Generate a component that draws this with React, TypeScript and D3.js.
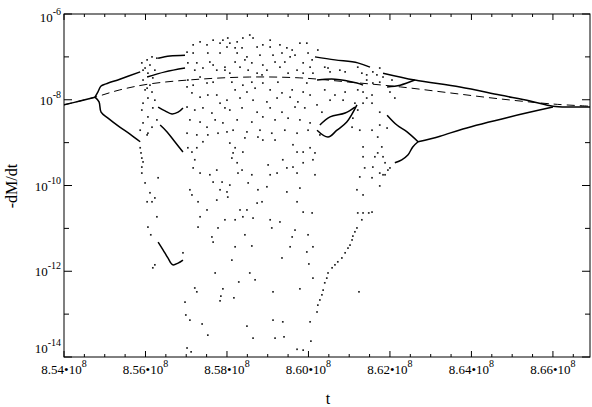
import React from "react";
import * as d3 from "d3";

// t in units of 1e6, dM/dt as log10 value
type Pt = [number, number];

const xTicksMajor = [854, 856, 858, 860, 862, 864, 866];
const xTickLabels = ["8.54", "8.56", "8.58", "8.60", "8.62", "8.64", "8.66"];
const yDecades = [-14, -13, -12, -11, -10, -9, -8, -7, -6];
const yLabelDecades = [-14, -12, -10, -8, -6];

// stable branches (solid)
const mainBranch: Pt[] = [[854.0, -8.12], [854.39, -8.03], [854.76, -7.94]];
const upperBranch: Pt[] = [[854.76, -7.94], [854.83, -7.82], [854.91, -7.68], [855.03, -7.63], [855.37, -7.52], [855.87, -7.35]];
const lowerBranch: Pt[] = [[854.76, -7.94], [854.86, -8.05], [854.91, -8.29], [855.08, -8.43], [855.37, -8.64], [855.62, -8.8], [855.87, -8.98]];
const topLeft: Pt[] = [[856.31, -7.03], [856.6, -6.98], [856.97, -6.96]];
const midLeft: Pt[] = [[856.04, -7.47], [856.48, -7.35], [856.97, -7.26]];
const vUpper: Pt[] = [[856.31, -8.17], [856.48, -8.26], [856.65, -8.33], [856.8, -8.29], [856.92, -8.19]];
const descend: Pt[] = [[856.36, -8.59], [856.53, -8.75], [856.72, -8.98], [856.92, -9.22]];
const vLower: Pt[] = [[856.31, -11.32], [856.43, -11.5], [856.55, -11.69], [856.67, -11.85], [856.8, -11.81], [856.92, -11.74]];
const topRight: Pt[] = [[860.16, -7.0], [860.65, -7.07], [861.21, -7.14], [861.51, -7.24]];
const upperRight: Pt[] = [[861.83, -7.38], [862.61, -7.54], [863.72, -7.7], [864.7, -7.89], [865.44, -8.03], [866.0, -8.15], [866.42, -8.17], [866.91, -8.17]];
const midRight: Pt[] = [[860.21, -7.54], [860.65, -7.52], [861.19, -7.61], [861.34, -7.66]];
const mergeRight: Pt[] = [[861.93, -7.7], [862.25, -7.66], [862.61, -7.54]];
const lowerRight: Pt[] = [[866.0, -8.17], [864.94, -8.4], [863.79, -8.68], [863.23, -8.85], [862.69, -8.98]];
const armUp: Pt[] = [[862.69, -8.98], [862.42, -8.75], [862.17, -8.59], [861.93, -8.36]];
const armDown: Pt[] = [[862.69, -8.98], [862.56, -9.1], [862.44, -9.29], [862.29, -9.4], [862.12, -9.47]];
const loopA: Pt[] = [[860.28, -8.59], [860.53, -8.4], [860.9, -8.31], [861.14, -8.17]];
const loopB: Pt[] = [[860.21, -8.71], [860.48, -8.87], [860.7, -8.71], [860.94, -8.52], [861.19, -8.12]];

// unstable fixed point (dashed)
const dashedLine: Pt[] = [[854.0, -8.12], [854.76, -7.94], [855.37, -7.77], [856.11, -7.63], [857.34, -7.52], [858.56, -7.47], [859.79, -7.49], [861.02, -7.59], [862.25, -7.7], [863.47, -7.84], [864.7, -7.98], [866.0, -8.1], [866.91, -8.15]];

// chaotic points
const cloudLeft: Pt[] = [[855.91, -7.14], [856.04, -7.07], [856.16, -7.0], [856.28, -7.03], [855.94, -7.31], [856.06, -7.38], [856.18, -7.49], [855.94, -7.54], [856.11, -7.66], [855.99, -7.77], [856.16, -7.82], [856.06, -7.96], [855.94, -8.08], [856.23, -8.01], [855.91, -8.24], [856.06, -8.4], [855.94, -8.54], [856.16, -8.64], [855.87, -8.71], [856.04, -8.82], [856.28, -8.47], [855.99, -7.26], [856.11, -7.19], [856.23, -7.31], [856.04, -7.73], [856.18, -8.19], [856.06, -8.78]];
const cloudUpper: Pt[] = [[857.02, -6.89], [857.17, -6.72], [857.34, -6.65], [857.51, -6.72], [857.66, -6.61], [857.83, -6.68], [858.0, -6.77], [857.04, -7.14], [857.26, -7.14], [857.41, -7.26], [857.58, -7.12], [857.75, -7.31], [857.95, -7.24], [857.9, -6.61], [858.07, -6.68], [858.2, -6.79], [858.25, -6.65], [858.39, -6.56], [858.56, -6.49], [858.64, -6.56], [858.37, -6.79], [858.74, -6.77], [858.88, -6.72], [859.06, -6.77], [859.3, -6.72], [859.47, -6.79], [859.6, -6.84], [859.79, -6.68], [859.99, -6.91], [860.09, -7.07], [857.83, -6.91], [858.25, -6.91], [858.49, -7.0], [858.81, -6.96], [859.13, -6.96], [859.35, -6.91], [859.67, -6.96], [858.2, -7.12], [858.44, -7.07], [858.61, -7.14], [858.88, -7.19], [859.18, -7.12], [859.42, -7.12], [859.87, -7.14], [860.04, -7.24], [859.96, -6.68], [860.23, -6.84], [857.17, -6.91], [857.53, -6.91], [857.21, -7.31], [857.66, -7.19], [858.32, -7.24], [858.98, -7.31], [859.3, -7.24], [859.72, -7.31], [859.55, -7.0], [858.02, -6.56], [859.06, -6.61]];
const cloudMid: Pt[] = [[857.04, -7.54], [857.17, -7.66], [857.34, -7.47], [857.51, -7.61], [857.66, -7.59], [857.14, -7.84], [857.34, -7.94], [857.53, -7.89], [857.75, -7.89], [857.83, -8.08], [857.02, -8.17], [857.21, -8.24], [857.41, -8.19], [857.63, -8.31], [857.95, -8.19], [857.09, -8.47], [857.34, -8.52], [857.51, -8.64], [857.71, -8.47], [857.9, -8.54], [857.02, -8.78], [857.26, -8.82], [857.53, -8.82], [857.78, -8.78], [857.95, -7.31], [858.07, -7.38], [858.52, -7.31], [858.74, -7.38], [858.86, -7.42], [859.5, -7.38], [859.87, -7.38], [860.11, -7.38], [858.12, -7.59], [858.39, -7.66], [858.61, -7.59], [858.88, -7.61], [859.25, -7.59], [859.96, -7.61], [858.2, -7.77], [858.49, -7.82], [858.69, -7.73], [859.06, -7.77], [859.35, -7.84], [859.6, -7.77], [859.87, -7.82], [858.0, -8.01], [858.32, -7.96], [858.64, -8.01], [858.98, -8.05], [859.23, -7.96], [859.55, -7.94], [859.74, -8.05], [860.04, -7.89], [858.07, -8.24], [858.37, -8.19], [858.74, -8.29], [859.06, -8.19], [859.35, -8.29], [859.67, -8.17], [859.91, -8.19], [860.21, -8.12], [858.25, -8.47], [858.61, -8.52], [858.88, -8.4], [859.18, -8.47], [859.5, -8.43], [859.79, -8.47], [860.04, -8.54], [858.15, -8.71], [858.49, -8.75], [858.81, -8.71], [859.1, -8.78], [859.42, -8.71], [859.72, -8.78], [859.99, -8.71], [857.02, -7.7]];
const cloudRight: Pt[] = [[861.21, -7.24], [861.31, -7.38], [861.43, -7.42], [861.68, -7.42], [861.75, -7.26], [861.83, -7.47], [861.75, -7.59], [861.58, -7.61], [861.21, -7.77], [861.34, -7.82], [861.56, -7.89], [861.43, -7.96], [861.34, -8.08], [861.14, -8.08], [861.56, -8.08], [861.21, -8.24], [861.09, -8.43], [861.07, -8.64], [861.75, -8.29], [861.75, -8.59], [861.93, -8.66], [861.56, -8.71], [861.26, -8.71], [861.7, -8.87], [861.43, -7.54], [861.58, -7.35], [862.05, -7.54], [862.0, -7.82], [862.12, -7.96], [860.4, -7.24], [860.53, -7.35], [860.77, -7.31], [860.48, -7.26], [860.9, -7.35], [860.4, -7.77], [860.65, -7.89], [860.9, -7.82], [860.53, -8.01], [860.85, -8.01], [860.33, -8.29]];
const cloudMidLow: Pt[] = [[858.0, -8.75], [858.07, -9.01], [858.2, -9.12], [858.44, -8.89], [858.76, -8.87], [858.88, -8.94], [859.18, -8.94], [859.62, -9.05], [859.72, -9.22], [859.87, -9.22], [860.04, -9.12], [860.16, -9.24], [860.28, -8.82], [857.04, -9.12], [857.14, -9.22], [857.26, -9.12], [857.41, -8.98], [857.21, -9.4], [857.17, -9.59], [857.34, -9.71], [857.58, -9.75], [857.75, -9.64], [857.66, -9.92], [857.88, -9.92], [858.07, -9.99], [858.0, -10.15], [857.83, -10.1], [858.15, -9.24], [858.25, -9.47], [858.27, -9.71], [858.37, -9.64], [858.12, -9.36], [858.39, -9.22], [858.52, -9.94], [858.61, -9.75], [858.76, -10.1], [858.98, -10.03], [859.06, -9.75], [859.23, -9.71], [859.01, -9.52], [859.37, -9.4], [859.47, -9.59], [859.62, -9.57], [859.72, -9.71], [859.87, -9.47], [860.11, -9.4], [860.16, -9.75], [859.47, -10.15], [859.79, -10.06], [857.09, -10.1], [857.14, -10.22], [857.29, -10.38], [857.51, -10.57], [857.75, -10.34], [858.02, -10.27], [858.32, -10.57], [858.49, -10.57], [858.39, -10.73], [858.74, -10.41], [858.86, -10.38], [859.06, -10.8], [859.3, -10.85], [859.72, -10.38], [859.87, -10.62], [860.09, -10.64], [857.34, -10.73], [857.95, -10.8], [858.2, -10.8], [858.64, -10.76], [857.29, -10.97], [857.78, -10.99], [857.63, -11.2], [858.44, -11.15], [859.1, -10.99], [859.67, -11.04], [859.99, -11.15], [859.6, -11.2], [858.2, -11.43], [858.61, -11.41], [859.55, -11.43], [856.31, -9.82], [856.92, -11.57]];
const leftEdge: Pt[] = [[855.87, -9.12], [855.89, -9.24], [855.91, -9.36], [855.94, -9.45], [855.91, -9.57], [855.91, -9.71], [855.99, -9.94], [856.11, -10.17], [856.04, -10.38], [856.16, -10.38], [856.23, -10.29], [856.28, -10.73], [856.06, -10.97], [856.13, -11.15], [856.23, -11.85], [856.18, -11.92]];
const lowCloud: Pt[] = [[857.66, -11.32], [860.11, -11.43], [859.96, -11.55], [858.12, -11.74], [859.35, -11.69], [857.71, -12.04], [858.56, -12.04], [858.69, -12.2], [858.29, -12.25], [860.01, -11.83], [860.11, -12.16], [857.21, -12.39], [857.26, -12.48], [857.9, -12.41], [857.85, -12.58], [857.83, -12.69], [858.17, -12.62], [856.97, -12.72], [859.13, -12.48], [859.79, -12.41], [856.99, -13.02], [857.09, -13.14], [857.39, -13.23], [857.53, -13.49], [858.49, -13.28], [859.13, -13.14], [859.37, -13.18], [860.04, -13.18], [858.64, -13.56], [859.18, -13.56], [859.4, -13.53], [860.06, -13.63], [859.72, -13.82], [859.87, -13.84], [857.02, -13.79], [857.12, -13.88], [861.24, -12.48]];
const rightEdge: Pt[] = [[862.0, -9.59], [861.95, -9.64], [861.88, -9.75], [861.75, -10.01], [861.34, -9.1], [861.8, -9.1], [861.7, -9.24], [861.34, -9.33], [861.63, -9.33], [861.83, -9.33], [861.88, -9.47], [861.58, -9.57], [861.38, -9.59], [861.75, -9.71], [861.26, -9.8], [861.56, -9.82], [861.83, -9.75], [861.19, -10.1], [861.34, -10.22], [861.21, -10.64], [861.34, -10.64], [861.48, -10.64], [861.56, -10.62], [861.31, -10.8], [861.19, -10.99], [861.14, -11.08], [861.09, -11.18], [861.07, -11.27], [861.02, -11.39], [860.97, -11.46], [860.9, -11.57], [860.82, -11.69], [860.72, -11.78], [860.65, -11.85], [860.58, -11.92], [860.48, -12.04], [860.45, -12.16], [860.4, -12.27], [860.36, -12.44], [860.33, -12.55], [860.28, -12.67], [860.23, -12.79], [860.21, -12.95]];

const solidCurves = [mainBranch, upperBranch, lowerBranch, topLeft, midLeft, vUpper, descend, vLower, topRight, upperRight, midRight, mergeRight, lowerRight, armUp, armDown, loopA, loopB];
const allDots = [cloudLeft, cloudUpper, cloudMid, cloudRight, cloudMidLow, leftEdge, lowCloud, rightEdge].flat();

const W = 592;
const H = 407;
const left = 64, right = 590, top = 14, bottom = 357;
const font = "'Liberation Serif', 'DejaVu Serif', serif";

export default function App() {
  const x = d3.scaleLinear().domain([8.54e8, 8.6691e8]).range([left, right]);
  const y = d3.scaleLog().domain([1e-14, 1e-6]).range([bottom, top]);
  const line = d3
    .line<Pt>()
    .x((d) => x(d[0] * 1e6))
    .y((d) => y(Math.pow(10, d[1])))
    .curve(d3.curveCatmullRom.alpha(0.5));

  const minorX = d3.range(854, 867, 0.5).filter((v) => v % 2 !== 0);

  // end labels are pulled inside the axis range, as in the original
  const yLabelPos = (e: number) => {
    const yy = y(Math.pow(10, e)) + 5;
    if (e === -6) return yy + 3;
    if (e === -14) return yy - 9;
    return yy;
  };

  return (
    <svg width={W} height={H} style={{ position: "absolute", left: 0, top: 0, background: "#fff" }} fontFamily={font}>
      <defs>
        <clipPath id="plot">
          <rect x={left} y={top} width={right - left} height={bottom - top} />
        </clipPath>
      </defs>
      <g clipPath="url(#plot)">
        {allDots.map((d, i) => (
          <rect key={i} x={x(d[0] * 1e6) - 0.85} y={y(Math.pow(10, d[1])) - 0.85} width={1.7} height={1.7} fill="#222" />
        ))}
        <path d={line(dashedLine) || ""} fill="none" stroke="#000" strokeWidth={1} strokeDasharray="8,5" />
        {solidCurves.map((c, i) => (
          <path key={i} d={line(c) || ""} fill="none" stroke="#000" strokeWidth={1.5} />
        ))}
      </g>

      {/* frame */}
      <rect x={left} y={top} width={right - left} height={bottom - top} fill="none" stroke="#000" strokeWidth={1} />

      {/* x ticks */}
      {xTicksMajor.map((v) => (
        <g key={v}>
          <line x1={x(v * 1e6)} x2={x(v * 1e6)} y1={bottom} y2={bottom - 6} stroke="#000" />
          <line x1={x(v * 1e6)} x2={x(v * 1e6)} y1={top} y2={top + 6} stroke="#000" />
        </g>
      ))}
      {minorX.map((v) => (
        <g key={v}>
          <line x1={x(v * 1e6)} x2={x(v * 1e6)} y1={bottom} y2={bottom - 3} stroke="#000" />
          <line x1={x(v * 1e6)} x2={x(v * 1e6)} y1={top} y2={top + 3} stroke="#000" />
        </g>
      ))}
      {xTicksMajor.map((v, i) => (
        <text key={v} x={x(v * 1e6)} y={374} fontSize={13} textAnchor="middle">
          {xTickLabels[i]}•10<tspan fontSize={10} dy={-7}>8</tspan>
        </text>
      ))}

      {/* y ticks */}
      {yDecades.map((e) => {
        const len = e % 2 === 0 ? 8 : 5;
        return (
          <g key={e}>
            <line x1={left} x2={left + len} y1={y(Math.pow(10, e))} y2={y(Math.pow(10, e))} stroke="#000" />
            <line x1={right} x2={right - len} y1={y(Math.pow(10, e))} y2={y(Math.pow(10, e))} stroke="#000" />
          </g>
        );
      })}
      {yLabelDecades.map((e) => (
        <text key={e} x={61} y={yLabelPos(e)} fontSize={13} textAnchor="end">
          10<tspan fontSize={10} dy={-7}>{e}</tspan>
        </text>
      ))}

      <text x={328} y={404} fontSize={16} textAnchor="middle">t</text>
      <text transform="translate(17,186) rotate(-90)" fontSize={16} textAnchor="middle">-dM/dt</text>
    </svg>
  );
}
